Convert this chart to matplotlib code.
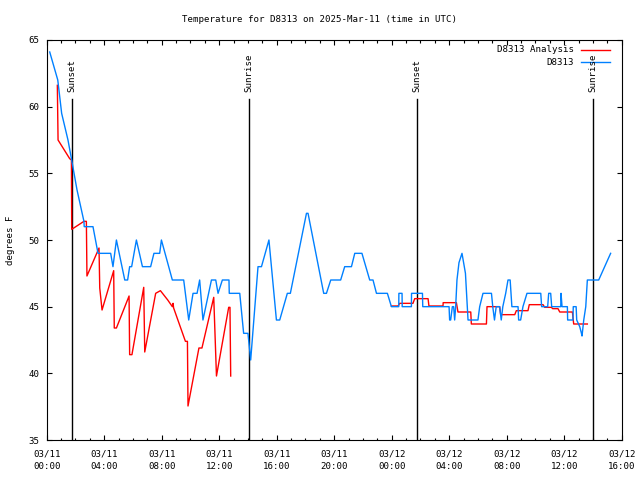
import numpy as np
import matplotlib
matplotlib.use("Agg")
import matplotlib.pyplot as plt
from matplotlib.lines import Line2D

# hours after 03/11 00:00 UTC, degrees F
obs_hours = [0.21, 0.77, 1.04, 1.48, 1.72, 2.11, 2.59, 2.61, 3.22, 3.57, 4.45, 4.61, 4.85, 5.43,
             5.63, 5.77, 5.91, 6.24, 6.66, 7.23, 7.46, 7.86, 7.98, 8.74, 9.53, 9.88, 10.18, 10.46,
             10.64, 10.87, 11.46, 11.76, 11.92, 12.22, 12.68, 12.70, 13.43, 13.70, 14.00, 14.19,
             14.70, 14.94, 15.46, 15.98, 16.21, 16.74, 16.95, 18.07, 18.18, 19.27, 19.46, 19.76,
             20.45, 20.73, 21.20, 21.43, 21.93, 22.47, 22.70, 22.94, 23.70, 23.98, 24.49, 24.50,
             24.72, 24.73, 25.37, 25.38, 26.14, 26.16, 27.99, 28.03, 28.10, 28.22, 28.31, 28.38,
             28.45, 28.54, 28.68, 28.89, 29.13, 29.31, 30.00, 30.12, 30.35, 30.94, 31.03, 31.15,
             31.27, 31.51, 31.62, 31.73, 31.93, 32.09, 32.24, 32.36, 32.79, 32.83, 32.97, 33.13,
             33.41, 34.37, 34.43, 34.85, 34.92, 35.06, 35.13, 35.76, 35.78, 35.85, 36.22, 36.24,
             36.61, 36.63, 36.83, 36.87, 37.08, 37.20, 37.24, 37.36, 37.50, 37.61, 38.40, 39.23]
obs_temp = [64.1, 62.0, 59.5, 57.5, 56.1, 53.75, 51.4, 51.0, 51.0, 49.0, 49.0, 48.0, 50.0, 47.0,
            47.0, 48.0, 48.0, 50.0, 48.0, 48.0, 49.0, 49.0, 50.0, 47.0, 47.0, 44.0, 46.0, 46.0,
            47.0, 44.0, 47.0, 47.0, 46.0, 47.0, 47.0, 46.0, 46.0, 43.0, 43.0, 41.0,
            48.0, 48.0, 50.0, 44.0, 44.0, 46.0, 46.0, 52.0, 52.0, 46.0, 46.0, 47.0,
            47.0, 48.0, 48.0, 49.0, 49.0, 47.0, 47.0, 46.0, 46.0, 45.0, 45.0, 46.0,
            46.0, 45.0, 45.0, 46.0, 46.0, 45.0, 45.0, 44.0, 44.0, 45.0, 45.0, 44.0,
            45.0, 47.0, 48.3, 49.0, 47.5, 44.0, 44.0, 45.0, 46.0, 46.0, 45.0, 44.0,
            45.0, 45.0, 44.0, 45.0, 46.0, 47.0, 47.0, 45.0, 45.0, 44.0, 44.0, 45.0,
            46.0, 46.0, 45.0, 45.0, 46.0, 46.0, 45.0, 45.0, 46.0, 45.0, 45.0, 44.0,
            44.0, 45.0, 45.0, 44.0, 43.5, 43.0, 42.8, 44.0, 45.0, 47.0, 47.0, 49.0]

ana1_hours = [0.74, 0.79, 1.60, 1.72, 1.74, 2.59, 2.76, 2.80, 3.64, 3.69, 3.85, 4.66, 4.70, 4.85,
              5.73, 5.77, 5.93, 6.75, 6.82, 7.58, 7.91, 8.42, 8.74, 8.79, 8.83, 9.65, 9.79, 9.83,
              10.59, 10.80, 11.62, 11.81, 12.66, 12.75, 12.80]
ana1_temp = [61.6, 57.5, 56.1, 56.0, 50.8, 51.4, 51.4, 47.3, 49.4, 46.4, 44.75, 47.7, 43.4, 43.4,
             45.8, 41.4, 41.4, 46.45, 41.6, 46.0, 46.2, 45.5, 45.0, 45.25, 44.9, 42.4, 42.4, 37.55,
             41.9, 41.9, 45.7, 39.8, 44.95, 44.95, 39.8]

ana2_hours = [23.98, 24.44, 24.56, 25.48, 25.60, 26.53, 26.59, 27.57, 27.58, 28.50, 28.61, 29.50,
              29.54, 30.59, 30.63, 31.51, 31.58, 32.56, 32.67, 33.48, 33.57, 34.53, 34.64, 35.11,
              35.20, 35.57, 35.69, 36.57, 36.66, 37.61]
ana2_temp = [45.05, 45.05, 45.25, 45.25, 45.6, 45.6, 45.05, 45.05, 45.3, 45.3, 44.6, 44.6,
             43.7, 43.7, 45.0, 45.0, 44.4, 44.4, 44.7, 44.7, 45.15, 45.15, 44.95, 44.95,
             44.85, 44.85, 44.6, 44.6, 43.7, 43.7]

sun_hours = [1.76, 14.07, 25.76, 38.0]
sun_labels = ["Sunset", "Sunrise", "Sunset", "Sunrise"]

tick_hours = list(range(0, 41, 4))
tick_labels = ["03/11\n00:00", "03/11\n04:00", "03/11\n08:00", "03/11\n12:00", "03/11\n16:00",
               "03/11\n20:00", "03/12\n00:00", "03/12\n04:00", "03/12\n08:00", "03/12\n12:00",
               "03/12\n16:00"]

plt.rcParams['font.family'] = ['DejaVu Sans Mono']
fs = 6.6
red = '#ff0000'
blue = '#0080ff'

fig = plt.figure(figsize=(6.4, 4.8), dpi=100)
ax = fig.add_axes([46.7 / 640, 40 / 480, 575 / 640, 400 / 480])

for h, lab in zip(sun_hours, sun_labels):
    ax.plot([h, h], [35, 60.57], color='black', lw=1.0)
    ax.text(h, 61.1, lab, rotation=90, ha='center', va='bottom', fontsize=fs)

ax.plot(ana1_hours, ana1_temp, color=red, lw=1.0)
ax.plot(ana2_hours, ana2_temp, color=red, lw=1.0)
ax.plot(obs_hours, obs_temp, color=blue, lw=1.0)

ax.set_xlim(0, 40)
ax.set_ylim(35, 65)
ax.set_xticks(tick_hours)
ax.set_xticklabels(tick_labels, fontsize=fs, linespacing=1.45)
ax.set_xticks(range(0, 41), minor=True)
ax.set_yticks(range(35, 66, 5))
ax.set_yticklabels([str(v) for v in range(35, 66, 5)], fontsize=fs)
ax.tick_params(which='both', direction='in', top=True, right=True, width=0.8)
ax.tick_params(which='major', length=3.3)
ax.tick_params(which='minor', length=1.8)
ax.tick_params(axis='x', pad=7)
ax.tick_params(axis='y', pad=5)
for s in ax.spines.values():
    s.set_linewidth(0.8)

fig.text(11 / 640, 0.5, "degrees F", rotation=90, ha='center', va='center', fontsize=fs)
fig.text(0.5, 1 - 20 / 480,
         "Temperature for D8313 on 2025-Mar-11 (time in UTC)",
         ha='center', va='center', fontsize=fs)

# legend, gnuplot style: right-aligned text, sample to the right
for i, (lab, col) in enumerate([("D8313 Analysis", red), ("D8313", blue)]):
    yy = 0.975 - i * 0.031
    ax.text(0.917, yy, lab, transform=ax.transAxes, ha='right', va='center', fontsize=fs)
    ax.add_line(Line2D([0.929, 0.979], [yy, yy], transform=ax.transAxes, color=col, lw=1.0))

fig.savefig("out.png", dpi=100)
